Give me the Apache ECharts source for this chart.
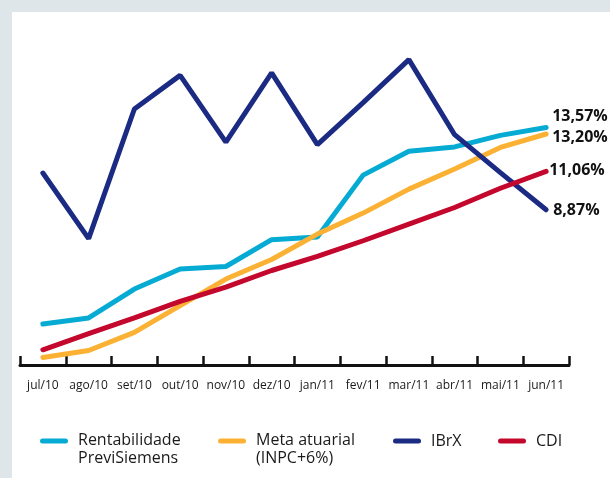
<!DOCTYPE html>
<html>
<head>
<meta charset="utf-8">
<script src="https://cdn.jsdelivr.net/npm/echarts@6/dist/echarts.min.js"></script>
<style>
  html, body { margin: 0; padding: 0; background: #dfe6e9; }
  #panel { position: absolute; left: 12px; top: 12px; width: 598px; height: 466px; background: #fff; }
  #chart { position: absolute; left: 0; top: 0; width: 610px; height: 478px; }
</style>
</head>
<body>
<div id="panel"></div>
<div id="chart"></div>
<script>
// months on the x axis
const months = ['jul/10', 'ago/10', 'set/10', 'out/10', 'nov/10', 'dez/10',
  'jan/11', 'fev/11', 'mar/11', 'abr/11', 'mai/11', 'jun/11'];

// cumulative returns, %
const rentabilidade = [2.34, 2.69, 4.34, 5.49, 5.63, 7.16, 7.31, 10.85, 12.21, 12.46, 13.12, 13.57];
const metaAtuarial = [0.43, 0.83, 1.86, 3.39, 4.91, 6.03, 7.48, 8.68, 10.05, 11.2, 12.43, 13.20];
const ibrx = [10.97, 7.22, 14.63, 16.55, 12.74, 16.69, 12.59, 14.99, 17.45, 13.16, 10.99, 8.87];
const cdi = [0.87, 1.79, 2.69, 3.63, 4.45, 5.4, 6.21, 7.1, 8.05, 9.0, 10.1, 11.06];

const font = "'Open Sans', 'Noto Sans', sans-serif";

// legend icon: a short bar drawn at the top of a taller box so it lines up with the first text line
const icon2 = 'path://M2.5,0L25.5,0Q28,0 28,2.5Q28,5 25.5,5L2.5,5Q0,5 0,2.5Q0,0 2.5,0ZM33,22';
const icon1 = 'path://M2.5,0L25.5,0Q28,0 28,2.5Q28,5 25.5,5L2.5,5Q0,5 0,2.5Q0,0 2.5,0ZM33,5';

const pct = v => v.toFixed(2).replace('.', ',') + '%';

function makeSeries(name, data, color, offset) {
  return {
    name: name,
    type: 'line',
    data: data,
    symbol: 'none',
    lineStyle: { color: color, width: 5, cap: 'round' },
    itemStyle: { color: color },
    endLabel: {
      show: true,
      formatter: () => pct(data[data.length - 1]),
      color: '#111',
      fontFamily: font,
      fontSize: 16,
      fontWeight: 'bold',
      offset: offset
    }
  };
}

function makeLegend(name, left, top, twoLines) {
  return {
    data: [name],
    left: left,
    top: top,
    padding: 0,
    icon: twoLines ? icon2 : icon1,
    itemWidth: 33,
    itemHeight: twoLines ? 22 : 5,
    itemStyle: { borderWidth: 0 },
    selectedMode: false,
    textStyle: { fontFamily: font, fontSize: 16, color: '#1a1a1a', lineHeight: 18 }
  };
}

const chart = echarts.init(document.getElementById('chart'));
chart.setOption({
  animation: false,
  grid: { left: 20, right: 41, top: 50, bottom: 113 },
  legend: [
    makeLegend('Rentabilidade\nPreviSiemens', 40, 431.5, true),
    makeLegend('Meta atuarial\n(INPC+6%)', 218, 431.5, true),
    makeLegend('IBrX', 393, 432, false),
    makeLegend('CDI', 498, 432, false)
  ],
  xAxis: {
    type: 'category',
    data: months,
    boundaryGap: true,
    axisLine: { lineStyle: { color: '#111', width: 3 } },
    axisTick: { show: true, inside: true, interval: 0, length: 9, lineStyle: { color: '#111', width: 2.5 } },
    axisLabel: { interval: 0, color: '#1a1a1a', fontFamily: font, fontSize: 12, margin: 15 }
  },
  yAxis: {
    type: 'value',
    min: 0,
    max: 18,
    show: false,
    splitLine: { show: false }
  },
  series: [
    makeSeries('Rentabilidade\nPreviSiemens', rentabilidade, '#06abd3', [-2, -11]),
    makeSeries('Meta atuarial\n(INPC+6%)', metaAtuarial, '#fbb134', [-2, 3]),
    makeSeries('IBrX', ibrx, '#1b2a82', [-1, 1]),
    makeSeries('CDI', cdi, '#c3072d', [-5, -1])
  ]
});
</script>
</body>
</html>
